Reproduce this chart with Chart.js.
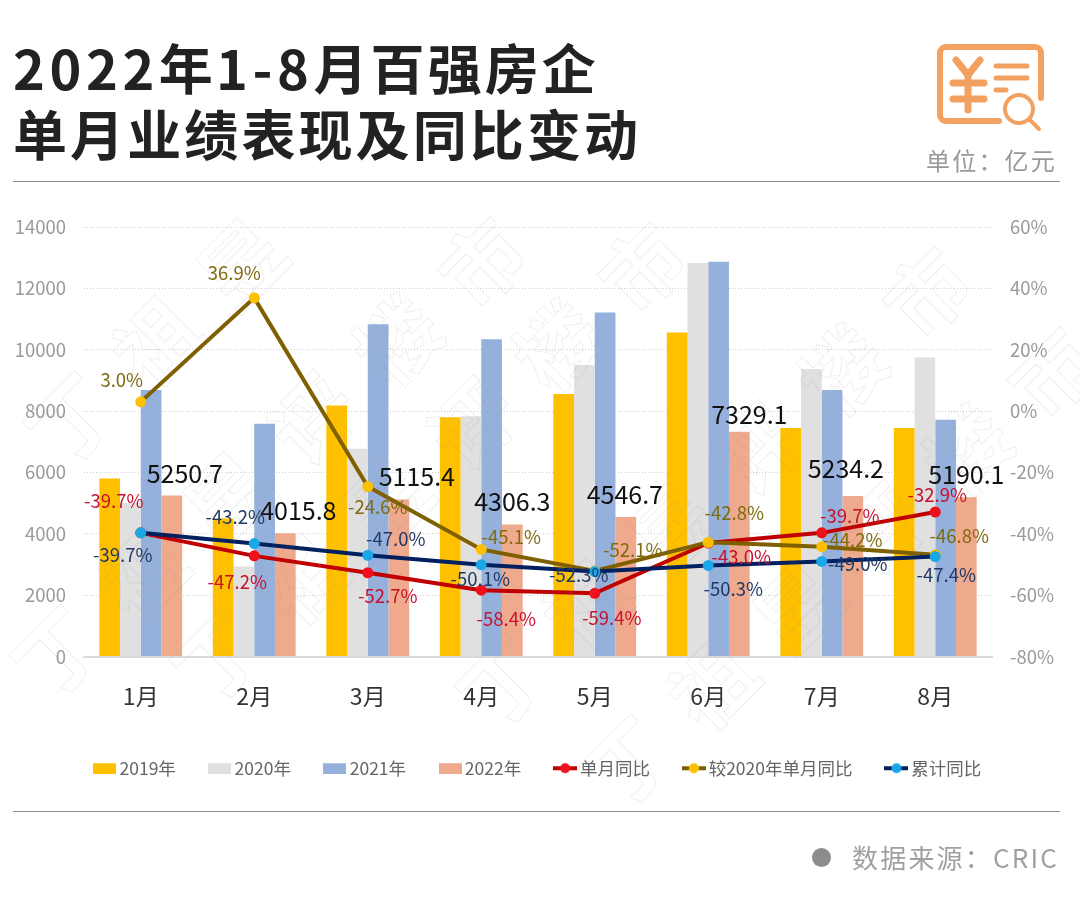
<!DOCTYPE html>
<html>
<head>
<meta charset="utf-8">
<script src="https://cdn.jsdelivr.net/npm/chart.js@4"></script>
<style>
html,body{margin:0;padding:0;background:#fff;}
#page{position:relative;width:1080px;height:906px;overflow:hidden;font-family:"Noto Sans CJK SC";}
#myChart{position:absolute;left:0;top:0;}
.title{position:absolute;left:13px;font-size:54px;font-weight:700;color:#222;letter-spacing:3.1px;line-height:60px;white-space:nowrap;}
.title span{letter-spacing:4.6px;}
.unit{position:absolute;left:926px;top:142px;font-size:24px;color:#999;letter-spacing:2.2px;line-height:36px;white-space:nowrap;}
.rule{position:absolute;left:13px;width:1047px;height:1px;background:#8c8c8c;}
.dot{position:absolute;left:812px;top:848px;width:19px;height:19px;border-radius:50%;background:#8c8c8c;}
.source{position:absolute;left:852px;top:838px;font-size:26px;color:#a0a0a0;letter-spacing:2.2px;line-height:38px;white-space:nowrap;}
#icon{position:absolute;left:0;top:0;}
.wm{position:absolute;font-size:82px;font-weight:700;color:transparent;-webkit-text-stroke:1px rgba(150,150,150,.15);transform:translate(-50%,-50%) rotate(-45deg);line-height:1;pointer-events:none;}
</style>
</head>
<body>
<div id="page">
  <canvas id="myChart" width="1080" height="906"></canvas>
  <div class="title" style="top:37px"><span>2022</span>年<span>1-8</span>月百强房企</div>
  <div class="title" style="top:103px">单月业绩表现及同比变动</div>
  <svg id="icon" width="1080" height="140" fill="none" stroke="#F2A161" stroke-linecap="round" stroke-linejoin="round">
    <path d="M1041 98V53a6 6 0 0 0-6-6H946a6 6 0 0 0-6 6v62a6 6 0 0 0 6 6h53" stroke-width="6"/>
    <path d="M956 60l12 15 12-15M968 75v35M953 83h31M953 99h31" stroke-width="7"/>
    <path d="M996 66h31M996 78h31M996 90h10" stroke-width="5"/>
    <circle cx="1019" cy="109" r="14" stroke-width="4"/>
    <path d="M1030 120l9 9" stroke-width="4"/>
  </svg>
  <div class="unit">单位：亿元</div>
  <div class="rule" style="top:181px"></div>
  <div class="rule" style="top:811px"></div>
  <div class="dot"></div>
  <div class="source">数据来源：CRIC</div>
</div>
<script>
var months = ['1月', '2月', '3月', '4月', '5月', '6月', '7月', '8月'];

var sales2019 = [5800, 4500, 8180, 7800, 8560, 10560, 7450, 7450];
var sales2020 = [5000, 2930, 6770, 7830, 9500, 12830, 9370, 9750];
var sales2021 = [8690, 7590, 10830, 10340, 11210, 12870, 8690, 7715];
var sales2022 = [5250.7, 4015.8, 5115.4, 4306.3, 4546.7, 7329.1, 5234.2, 5190.1];

var monthYoy = [-39.7, -47.2, -52.7, -58.4, -59.4, -43.0, -39.7, -32.9];
var vs2020Yoy = [3.0, 36.9, -24.6, -45.1, -52.1, -42.8, -44.2, -46.8];
var totalYoy = [-39.7, -43.2, -47.0, -50.1, -52.3, -50.3, -49.0, -47.4];

var leftTicks = [0, 2000, 4000, 6000, 8000, 10000, 12000, 14000];
var rightTicks = [-80, -60, -40, -20, 0, 20, 40, 60];

// 每个标签相对数据点的偏移，原图标签是手动拖过的
var offsets2022 = [[13, -22], [13, -23], [18, -23], [0, -23], [-1, -23], [10, -17], [-7, -27], [0, -23]];
var offsetsMonth = [[-27, -32], [-17, 26], [20, 23], [25, 29], [17, 25], [33, 14], [28, -17], [2, -17]];
var offsetsVs2020 = [[-19, -22], [-20, -25], [10, 20], [30, -12], [38, -21], [26, -29], [31, -7], [24, -19]];
var offsetsTotal = [[-18, 22], [-19, -27], [28, -16], [-1, 14], [-16, 3], [25, 24], [36, 3], [11, 18]];

var fontName = '"Noto Sans CJK SC"';

var rectIcon = (color) => {
    var c = document.createElement('canvas');
    c.width = 23; c.height = 12;
    var x = c.getContext('2d');
    x.fillStyle = color;
    x.fillRect(0, 1, 23, 11);
    return c;
}
var lineIcon = (lineColor, dotColor) => {
    var c = document.createElement('canvas');
    c.width = 24; c.height = 12;
    var x = c.getContext('2d');
    x.fillStyle = lineColor;
    x.fillRect(0, 4, 24, 4);
    x.fillStyle = dotColor;
    x.beginPath();
    x.arc(12, 6, 5, 0, Math.PI * 2);
    x.fill();
    return c;
}
var legendIcons = [
    rectIcon('#FFC000'), rectIcon('#E0E0E0'), rectIcon('#95B1DB'), rectIcon('#EFA98C'),
    lineIcon('#C00000', '#F0101C'), lineIcon('#7F6000', '#FFC000'), lineIcon('#002060', '#1AA7E8')
];

var barSet = (label, data, color) => ({
    label: label, data: data, backgroundColor: color, order: 4,
    categoryPercentage: 0.73, barPercentage: 1, yAxisID: 'y'
});
var lineSet = (label, data, lineColor, dotColor, order, textColor, offsets) => ({
    type: 'line', label: label, data: data, yAxisID: 'y1', order: order,
    borderColor: lineColor, borderWidth: 4, backgroundColor: dotColor,
    pointBackgroundColor: dotColor, pointBorderWidth: 0, pointRadius: 5.5, pointStyle: 'circle',
    tension: 0, labelColor: textColor, labelOffsets: offsets, labelSuffix: '%'
});

// 自己画数据标签
var labelPlugin = {
    id: 'valueLabels',
    afterDatasetsDraw: (chart) => {
        var ctx = chart.ctx;
        ctx.save();
        ctx.textAlign = 'center';
        ctx.textBaseline = 'middle';
        chart.data.datasets.forEach((ds, i) => {
            if (!ds.labelOffsets) return;
            var big = !ds.labelSuffix;
            ctx.font = (big ? '25px ' : '18.5px ') + fontName;
            ctx.fillStyle = ds.labelColor;
            chart.getDatasetMeta(i).data.forEach((el, j) => {
                var text = big ? ds.data[j].toFixed(1) : ds.data[j].toFixed(1) + ds.labelSuffix;
                ctx.fillText(text, el.x + ds.labelOffsets[j][0], el.y + ds.labelOffsets[j][1]);
            });
        });
        ctx.restore();
    }
};

var set2022 = barSet('2022年', sales2022, '#EFA98C');
set2022.labelColor = '#111';
set2022.labelOffsets = offsets2022;

var ctx = document.getElementById('myChart').getContext('2d');
var chart = new Chart(ctx, {
    type: 'bar',
    data: {
        labels: months,
        datasets: [
            barSet('2019年', sales2019, '#FFC000'),
            barSet('2020年', sales2020, '#E0E0E0'),
            barSet('2021年', sales2021, '#95B1DB'),
            set2022,
            lineSet('单月同比', monthYoy, '#C00000', '#F0101C', 3, '#C8102E', offsetsMonth),
            lineSet('较2020年单月同比', vs2020Yoy, '#7F6000', '#FFC000', 2, '#7F6A10', offsetsVs2020),
            lineSet('累计同比', totalYoy, '#002060', '#1AA7E8', 1, '#1F3864', offsetsTotal)
        ]
    },
    options: {
        responsive: false,
        animation: false,
        layout: { padding: { top: 227, bottom: 119, left: 0, right: 0 } },
        plugins: {
            tooltip: { enabled: false },
            legend: {
                position: 'bottom',
                labels: {
                    usePointStyle: true,
                    pointStyleWidth: 12,
                    boxHeight: 12,
                    padding: 38,
                    color: '#666',
                    font: { family: fontName, size: 17.5 },
                    generateLabels: (c) => {
                        var items = Chart.defaults.plugins.legend.labels.generateLabels(c);
                        items.sort((a, b) => a.datasetIndex - b.datasetIndex);
                        items.forEach((it) => { it.pointStyle = legendIcons[it.datasetIndex]; });
                        return items;
                    }
                }
            }
        },
        scales: {
            x: {
                grid: { display: false, drawTicks: false },
                border: { color: '#d9d9d9', width: 2 },
                ticks: { color: '#333', font: { family: fontName, size: 23 }, padding: 26 },
                afterFit: (s) => { s.height = 65; }
            },
            y: {
                position: 'left', min: 0, max: 14000,
                afterBuildTicks: (s) => { s.ticks = leftTicks.map((v) => ({ value: v })); },
                grid: { color: '#cfcfcf', drawTicks: false, lineWidth: 1 },
                border: { display: false, dash: [1, 2] },
                ticks: { color: '#9a9a9a', font: { family: fontName, size: 18.5 }, padding: 18, callback: (v) => String(v) },
                afterFit: (s) => { s.width = 84; }
            },
            y1: {
                position: 'right', min: -80, max: 60,
                afterBuildTicks: (s) => { s.ticks = rightTicks.map((v) => ({ value: v })); },
                grid: { display: false, drawTicks: false },
                border: { display: false },
                ticks: { color: '#9a9a9a', font: { family: fontName, size: 18.5 }, padding: 18, callback: (v) => v + '%' },
                afterFit: (s) => { s.width = 88; }
            }
        }
    },
    plugins: [labelPlugin]
});

// 水印：沿对角线重复的描边文字，只留在图表区内
var markText = ['丁', '祖', '昱', '评', '楼', '市'];
var markRows = [[69, 417], [55, 650], [215, 655], [500, 680], [625, 760]];
var page = document.getElementById('page');
markRows.forEach((row) => {
    markText.forEach((ch, i) => {
        var mx = row[0] + i * 85, my = row[1] - i * 78;
        if (my < 250 || mx > 1050) return;
        var d = document.createElement('div');
        d.className = 'wm';
        d.textContent = ch;
        d.style.left = mx + 'px';
        d.style.top = my + 'px';
        page.appendChild(d);
    });
});
</script>
</body>
</html>
